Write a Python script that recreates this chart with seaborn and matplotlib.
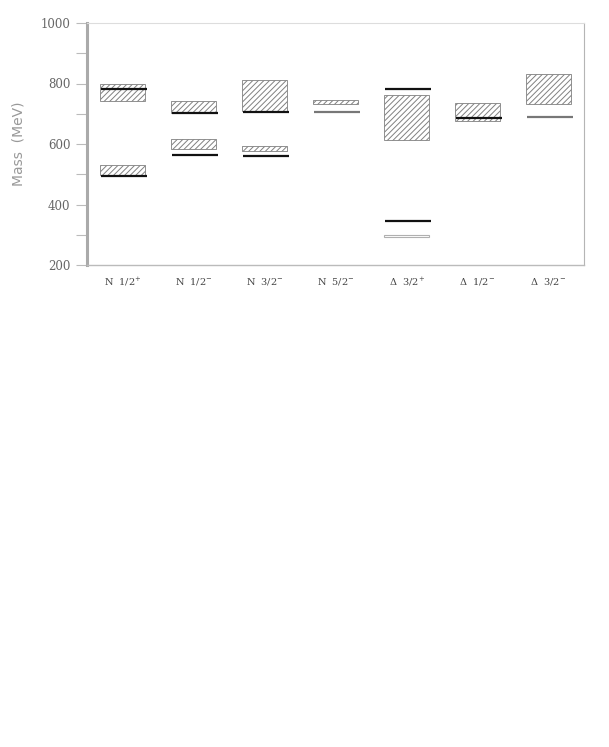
import matplotlib
matplotlib.use("Agg")
import matplotlib.pyplot as plt
import seaborn as sns
import numpy as np

# ---- data ----
categories = ["N  1/2$^{+}$", "N  1/2$^{-}$", "N  3/2$^{-}$", "N  5/2$^{-}$",
              "\u0394  3/2$^{+}$", "\u0394  1/2$^{-}$", "\u0394  3/2$^{-}$"]

# hatched boxes: category index, lower mass, upper mass
box_cat = [0, 0, 1, 1, 2, 2, 3, 4, 5, 6]
box_low = [743, 497, 703, 583, 710, 576, 732, 613, 677, 731]
box_high = [800, 532, 742, 618, 812, 595, 747, 763, 736, 833]

# open (unhatched) box
open_cat = [4]
open_low = [293]
open_high = [299]

# horizontal level lines: category index, mass, shade
line_cat = [0, 0, 1, 1, 2, 2, 3, 4, 4, 5, 6]
line_mass = [781, 493, 702, 562, 706, 561, 705, 781, 346, 687, 688]
line_shade = ["k", "k", "k", "k", "k", "k", "g", "k", "k", "k", "g"]

# ---- style ----
sns.set_theme(style="white")
plt.rcParams["font.family"] = ["DejaVu Serif", "DejaVu Sans"]
plt.rcParams["mathtext.fontset"] = "dejavuserif"
plt.rcParams["hatch.linewidth"] = 0.7

fig = plt.figure(figsize=(6.09, 7.47), dpi=100)
ax = fig.add_axes([87 / 609, 1 - 265 / 747, (584 - 87) / 609, (265 - 23) / 747])

bw = 0.62
x_box = np.array(box_cat, dtype=float)
ax.bar(x_box, np.array(box_high) - np.array(box_low), width=bw,
       bottom=box_low, color="white", edgecolor="#808080",
       hatch="//////", linewidth=0.6, zorder=2)
ax.bar(np.array(open_cat, dtype=float), np.array(open_high) - np.array(open_low),
       width=bw, bottom=open_low, color="white", edgecolor="#b0b0b0",
       linewidth=0.8, zorder=2)

shade_map = {"k": "#111111", "g": "#777777"}
for c, m, s in zip(line_cat, line_mass, line_shade):
    ax.hlines(m, c - bw / 2 + 0.01, c + bw / 2 + 0.03, color=shade_map[s],
              linewidth=1.6, zorder=3)

ax.set_xlim(-0.5, len(categories) - 0.5)
ax.set_ylim(200, 1000)
ax.set_xticks(range(len(categories)))
ax.set_xticklabels(categories, fontsize=7, color="#444444")
ax.set_yticks([200, 400, 600, 800, 1000])
ax.set_yticks([300, 500, 700, 900], minor=True)
ax.tick_params(axis="y", which="both", direction="out", length=8, width=0.8,
               color="#bbbbbb", labelsize=8.5, labelcolor="#666666", pad=4, left=True)
ax.tick_params(axis="x", length=0, pad=8)
ax.set_ylabel("Mass  (MeV)", fontsize=10, color="#999999", labelpad=11,
              family="DejaVu Sans")

ax.spines["left"].set_color("#aaaaaa")
ax.spines["left"].set_linewidth(2.2)
ax.spines["right"].set_color("#b5b5b5")
ax.spines["right"].set_linewidth(0.8)
ax.spines["top"].set_color("#dddddd")
ax.spines["top"].set_linewidth(0.8)
ax.spines["bottom"].set_color("#bbbbbb")
ax.spines["bottom"].set_linewidth(1.0)
ax.grid(False)

fig.savefig("out.png", dpi=100)
